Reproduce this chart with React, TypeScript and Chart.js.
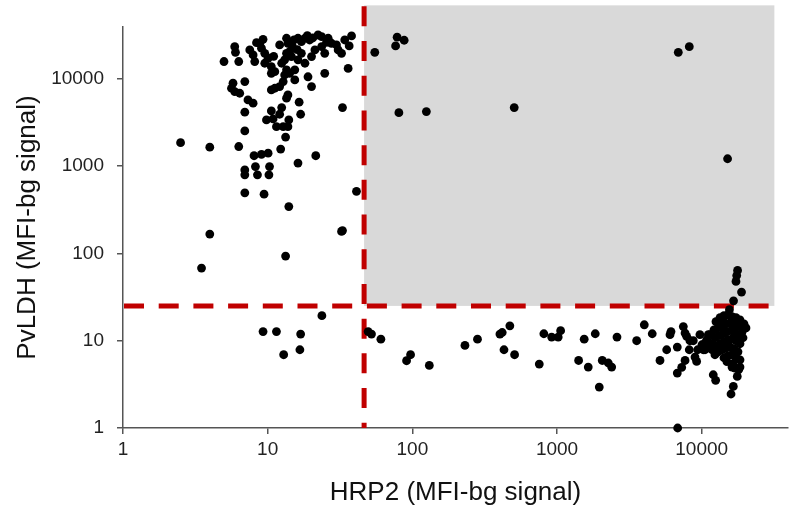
import React, { useEffect, useRef } from "react";
import { Chart, registerables } from "chart.js";

Chart.register(...registerables);

// ---- axis ranges & tick labels ----
const X_MIN = 1;
const X_MAX = 39500;
const Y_MIN = 1;
const Y_MAX = 39000;
const X_TICKS = [1, 10, 100, 1000, 10000];
const Y_TICKS = [1, 10, 100, 1000, 10000];

// ---- cut-offs & shaded positive quadrant ----
const HRP2_CUTOFF = 46.4;
const PVLDH_CUTOFF = 25;
const SHADE_X_MAX = 31800;
const SHADE_Y_MAX = 69000;

const X_TITLE = "HRP2 (MFI-bg signal)";
const Y_TITLE = "PvLDH (MFI-bg signal)";

// ---- samples: [HRP2, PvLDH] ----
// HRP2-negative, PvLDH-positive
const PVLDH_ONLY: [number, number][] = [
  [38.0, 30800], [36.6, 23700], [36.0, 13100], [32.9, 4660], [22.3, 31600], [23.6, 30300],
  [26.2, 29000], [18.1, 29000], [17.1, 26500], [19.5, 27700], [16.2, 29000], [13.5, 29000],
  [13.8, 25400], [12.1, 24300], [9.29, 28200], [8.82, 25400], [8.37, 25800], [7.52, 21300],
  [5.92, 23200], [5.99, 20000], [4.99, 15700], [6.31, 15700], [7.93, 18700], [8.14, 15700],
  [9.55, 19500], [10.07, 17100], [9.55, 15000], [9.06, 22300], [10.6, 13700], [11.2, 12000],
  [10.6, 11500], [13.5, 19500], [14.2, 20400], [14.6, 17900], [13.1, 16400], [12.5, 15000],
  [13.5, 12600], [14.2, 11500], [15.4, 12600], [13.1, 11000], [16.2, 16400], [18.1, 15000],
  [17.1, 19500], [20.1, 17900], [21.2, 21300], [23.6, 23200], [24.8, 19500], [27.6, 25400],
  [29.9, 24300], [30.7, 21300], [32.4, 19500], [19.0, 10500], [24.8, 11500], [20.1, 8100],
  [15.4, 9660], [12.8, 9250], [12.1, 8100], [11.2, 7760], [10.6, 7430], [6.95, 9250],
  [5.76, 8860], [5.62, 7760], [5.92, 7100], [6.41, 6800], [7.31, 5700], [7.93, 5230],
  [13.5, 5970], [13.8, 6510], [16.5, 5370], [6.95, 4130], [10.6, 4270], [12.5, 4660],
  [12.1, 3910], [16.9, 3910], [9.81, 3370], [10.9, 3460], [11.5, 2820], [12.8, 2820],
  [13.8, 2820], [14.0, 3370], [13.3, 2140], [6.95, 2520], [2.5, 1850], [3.98, 1640],
  [6.31, 1670], [12.3, 1560], [8.05, 1310], [9.06, 1360], [10.07, 1400], [21.5, 1310],
  [16.2, 1080], [8.23, 985], [10.3, 985], [6.95, 900], [6.95, 791], [8.5, 791],
  [10.2, 791], [6.95, 492], [9.44, 475], [14.0, 343], [41.1, 512], [3.98, 166],
  [32.4, 178], [32.9, 182], [13.3, 92.9], [3.49, 67.7], [15.2, 27800], [20.5, 29200],
  [34.1, 27700], [18.8, 31000], [14.8, 23500], [25.5, 26000], [11.0, 18000], [16.0, 21500],
];

// both negative
const DOUBLE_NEGATIVE: [number, number][] = [
  [9.29, 12.7], [11.5, 12.7], [16.9, 11.9], [12.9, 6.9], [16.7, 7.87], [23.7, 19.3],
];

// both positive (shaded area)
const DOUBLE_POSITIVE: [number, number][] = [
  [55.0, 20000], [78.5, 29800], [87.8, 27500], [76.6, 23700], [80.7, 4080], [125, 4190],
  [506, 4660], [6890, 20000], [8210, 23200], [15100, 1210], [17700, 63.6], [17460, 55.7],
  [17260, 47.6], [18850, 36.0], [16600, 28.6], [15550, 22.6],
];

// HRP2-positive, PvLDH-negative
const HRP2_ONLY: [number, number][] = [
  [49.5, 12.7], [52.2, 11.9], [60.6, 10.4], [91.2, 5.89], [97.2, 6.9], [131, 5.2],
  [231, 8.81], [282, 10.4], [403, 11.9], [418, 12.4], [472, 14.8], [430, 7.87],
  [509, 6.9], [754, 5.4], [811, 12.0], [918, 11.0], [1019, 11.0], [1059, 13.0],
  [1410, 5.93], [1644, 4.99], [1541, 10.4], [1838, 12.0], [1959, 2.94], [2055, 5.93],
  [2262, 5.55], [2387, 4.99], [2597, 11.0], [3553, 9.98], [4011, 15.2], [4552, 12.0],
  [5149, 5.93], [5729, 7.87], [6135, 12.7], [6039, 11.7], [6780, 8.45], [6823, 1],
  [6780, 4.26], [7273, 4.94], [7464, 14.5], [7672, 12.2], [7874, 11.2], [8292, 9.98],
  [8750, 9.98], [7672, 5.93], [8206, 7.87], [8990, 6.49], [9230, 5.78], [9380, 7.87],
  [10540, 7.87], [10830, 8.98], [11110, 11.7], [10830, 10.2], [12020, 4.07], [12490, 3.51],
  [12350, 6.9], [14100, 16.6], [15950, 2.45], [16550, 2.99], [17620, 3.89], [16200, 4.99],
  [18400, 4.99], [19900, 13.9], [10260, 7.87], [10540, 9.39], [11410, 11.7], [16990, 4.86],
  [18000, 4.65], [9720, 11.7], [10040, 8.98], [11590, 9.22], [11780, 7.87],
  [12550, 16.5], [13390, 18.3], [14250, 19.3], [15190, 19.8], [16210, 18.8], [17260, 18.3],
  [18400, 17.3], [19600, 15.6], [20240, 14.0], [12160, 13.3], [12960, 14.0], [13830, 14.8],
  [14720, 15.6], [15690, 16.0], [16710, 15.2], [17820, 14.8], [19000, 12.6], [12350, 10.8],
  [13170, 11.4], [14100, 12.0], [14950, 12.6], [15950, 13.0], [16990, 12.3], [18100, 11.4],
  [19300, 10.8], [12550, 8.74], [13390, 9.22], [14250, 9.71], [15190, 10.2], [16210, 10.5],
  [17260, 9.98], [18400, 9.22], [12960, 7.46], [13830, 7.87], [14720, 8.29], [15690, 8.51],
  [16710, 8.08], [17820, 7.46], [14250, 6.37], [15190, 6.72], [16210, 6.9], [17260, 6.37],
  [18400, 6.04], [14950, 5.74], [16450, 5.45],
];

const FONT = "'Liberation Sans', Arial, sans-serif";

const quadrantPlugin = {
  id: "quadrant",
  beforeDatasetsDraw(chart: any) {
    const { ctx, scales } = chart;
    const x = scales.x;
    const y = scales.y;
    const x0 = x.getPixelForValue(HRP2_CUTOFF);
    const x1 = x.getPixelForValue(SHADE_X_MAX);
    const y0 = y.getPixelForValue(PVLDH_CUTOFF);
    const y1 = y.getPixelForValue(SHADE_Y_MAX);
    ctx.save();
    ctx.fillStyle = "#d9d9d9";
    ctx.fillRect(x0, y1, x1 - x0, y0 - y1);
    ctx.strokeStyle = "#c00000";
    ctx.lineWidth = 5;
    ctx.lineCap = "butt";
    ctx.setLineDash([20, 14.7]);
    ctx.beginPath();
    ctx.moveTo(x.left + 1, y0);
    ctx.lineTo(x1 - 2, y0);
    ctx.stroke();
    ctx.beginPath();
    ctx.moveTo(x0, y1 + 1);
    ctx.lineTo(x0, y.bottom);
    ctx.stroke();
    ctx.restore();
  },
};

export default function App() {
  const ref = useRef<HTMLCanvasElement | null>(null);

  useEffect(() => {
    if (!ref.current) return;
    const toPts = (arr: [number, number][]) => arr.map(([a, b]) => ({ x: a, y: b }));
    const all = [...PVLDH_ONLY, ...DOUBLE_NEGATIVE, ...DOUBLE_POSITIVE, ...HRP2_ONLY];
    const chart = new Chart(ref.current, {
      type: "scatter",
      data: {
        datasets: [
          {
            data: toPts(all),
            backgroundColor: "#000",
            borderWidth: 0,
            pointRadius: 4.4,
            clip: false as any,
          },
        ],
      },
      options: {
        responsive: false,
        animation: false,
        devicePixelRatio: 1,
        layout: { padding: { top: 27, right: 8, left: 0, bottom: 0 } },
        plugins: { legend: { display: false }, tooltip: { enabled: false } },
        scales: {
          x: {
            type: "logarithmic",
            min: X_MIN,
            max: X_MAX,
            afterFit: (s: any) => {
              s.height = 89;
            },
            afterBuildTicks: (s: any) => {
              s.ticks = X_TICKS.map((v) => ({ value: v }));
            },
            border: { display: true, color: "#555", width: 1.5 },
            grid: { drawOnChartArea: false, drawTicks: true, tickLength: 6, color: "#555", lineWidth: 1.5 },
            ticks: {
              color: "#222",
              font: { family: FONT, size: 19 },
              padding: 4,
              maxRotation: 0,
              autoSkip: false,
              callback: (v: any) => String(v),
            },
            title: {
              display: true,
              text: X_TITLE,
              color: "#111",
              font: { family: FONT, size: 26 },
              padding: { top: 0, bottom: 9 },
            },
          },
          y: {
            type: "logarithmic",
            min: Y_MIN,
            max: Y_MAX,
            afterFit: (s: any) => {
              s.width = 123;
            },
            afterBuildTicks: (s: any) => {
              s.ticks = Y_TICKS.map((v) => ({ value: v }));
            },
            border: { display: true, color: "#555", width: 1.5 },
            grid: { drawOnChartArea: false, drawTicks: true, tickLength: 6, color: "#555", lineWidth: 1.5 },
            ticks: {
              color: "#222",
              font: { family: FONT, size: 19 },
              padding: 13,
              autoSkip: false,
              callback: (v: any) => String(v),
            },
            title: {
              display: true,
              text: Y_TITLE,
              color: "#111",
              font: { family: FONT, size: 26 },
              padding: { top: 12, bottom: 0 },
            },
          },
        },
      },
      plugins: [quadrantPlugin],
    });
    return () => chart.destroy();
  }, []);

  return (
    <div style={{ position: "fixed", left: 0, top: 0, width: 796, height: 517, background: "#fff" }}>
      <canvas ref={ref} width={796} height={517} style={{ width: 796, height: 517, display: "block" }} />
    </div>
  );
}
